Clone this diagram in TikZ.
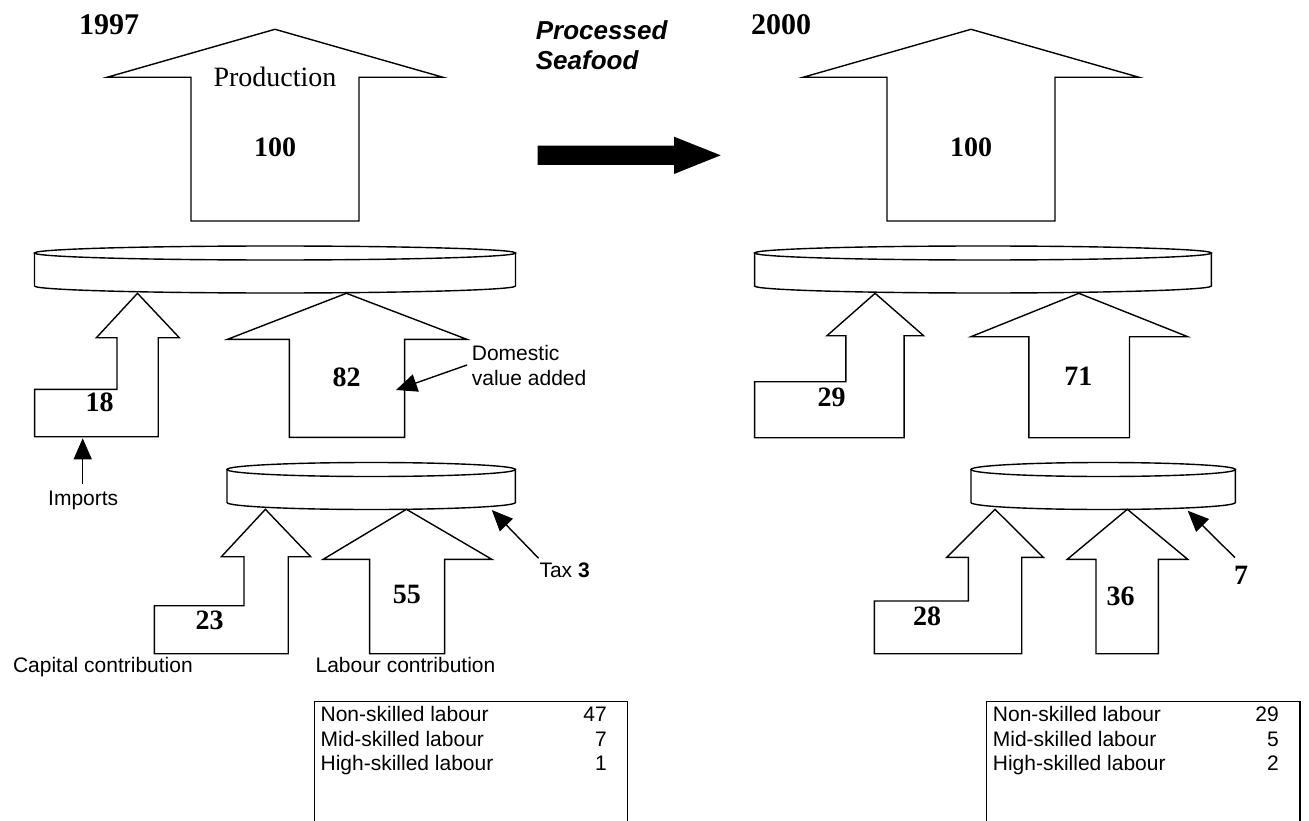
\documentclass[tikz,border=0pt]{standalone}
\usepackage{fontspec}
\setmainfont{Liberation Serif}
\newfontfamily\sansf{Liberation Sans}
\usetikzlibrary{arrows.meta}
\newcommand\drawdisk[4]{%
  \path[dsk] ({#1-#2},#3) -- ({#1-#2},#4) arc[start angle=180,end angle=360,x radius=#2pt,y radius=7pt] -- ({#1+#2},#3) -- cycle;
  \path[dsk] (#1,#3) ellipse[x radius=#2pt, y radius=7pt];
}
\begin{document}
\begin{tikzpicture}[x=1pt,y=-1pt,
  blk/.style={draw=black, line width=1.4pt, fill=white, line join=miter},
  dsk/.style={draw=black, line width=1.4pt, fill=white},
  num/.style={inner sep=0pt, anchor=base, font=\fontsize{28}{30}\selectfont\bfseries},
  yr/.style={inner sep=0pt, anchor=base west, font=\fontsize{30}{32}\selectfont\bfseries},
  lbl/.style={inner sep=0pt, anchor=base west, font=\sansf\fontsize{21}{24}\selectfont},
  tval/.style={inner sep=0pt, anchor=base east, font=\sansf\fontsize{21}{24}\selectfont},
  ptr/.style={line width=1.4pt, -{Triangle[length=21pt,width=18pt]}},
  tbl/.style={draw=black, line width=1.4pt}]
\useasboundingbox (0,0) rectangle (1309,821);
\fill[white] (0,0) rectangle (1309,821);

% ===== 1997 =====
\node[yr] (y1997) at (79,35) {1997};
% production arrow
\path[blk] (275,29.3) -- (443,77.3) -- (359,77.3) -- (359,221) -- (191,221) -- (191,77.3) -- (107,77.3) -- cycle;
\node[inner sep=0pt, anchor=base, font=\fontsize{28}{30}\selectfont] (prodL) at (275,87) {Production};
\node[num] (n100L) at (275,157) {100};
% big disk
\drawdisk{275}{240.5}{253}{286}
% imports arrow
\path[blk] (137.5,293.3) -- (179.3,337.7) -- (158.2,337.7) -- (158.2,436.7) -- (34.6,436.7) -- (34.6,389.3) -- (117,389.3) -- (117,337.7) -- (96.4,337.7) -- cycle;
\node[num] (n18) at (99.6,411.7) {18};
% domestic arrow
\path[blk] (346.4,293.3) -- (466.8,339.3) -- (404.6,339.3) -- (404.6,437.3) -- (289.3,437.3) -- (289.3,339.3) -- (227.5,339.3) -- cycle;
\node[num] (n82) at (346.5,386.7) {82};
% small disk
\drawdisk{371.2}{144.2}{469.5}{502.5}
% capital arrow
\path[blk] (265.4,509.3) -- (310.7,556.7) -- (288.2,556.7) -- (288.2,653.7) -- (154.3,653.7) -- (154.3,605.7) -- (244,605.7) -- (244,556.7) -- (221.4,556.7) -- cycle;
\node[num] (n23) at (209.5,629) {23};
% labour arrow
\path[blk] (406.4,509.3) -- (491.8,559.3) -- (444.6,559.3) -- (444.6,653.7) -- (369.6,653.7) -- (369.6,559.3) -- (323.2,559.3) -- cycle;
\node[num] (n55) at (406.8,603.3) {55};
% labels and pointers
\node[lbl] (dom1) at (471.7,360.7) {Domestic};
\node[lbl] (dom2) at (471.7,385) {value added};
\coordinate (domtail) at (467,365);
\coordinate (domtip) at (396,390);
\draw[ptr] (domtail) -- (domtip);
\node[lbl] (imp) at (48,505) {Imports};
\coordinate (imptail) at (82.7,484.3);
\coordinate (imptip) at (82.7,438.3);
\draw[ptr] (imptail) -- (imptip);
\node[lbl] (taxL) at (539.3,577.3) {Tax \textbf{3}};
\coordinate (taxLtail) at (538.6,558.3);
\coordinate (taxLtip) at (491.8,510);
\draw[ptr] (taxLtail) -- (taxLtip);
\node[inner sep=0pt, anchor=base east, font=\sansf\fontsize{21}{24}\selectfont] (capL) at (193,672.7) {Capital contribution};
\node[lbl] (labL) at (315.4,672.7) {Labour contribution};
% table left
\draw[tbl] (314.3,821) -- (314.3,701.7) -- (627.5,701.7) -- (627.5,821);
\node[lbl] (tL1) at (320.4,721.7) {Non-skilled labour};
\node[lbl] (tL2) at (320.4,746.7) {Mid-skilled labour};
\node[lbl] (tL3) at (320.4,770.7) {High-skilled labour};
\node[tval] (vL1) at (607,721.7) {47};
\node[tval] (vL2) at (607,746.7) {7};
\node[tval] (vL3) at (607,770.7) {1};

% ===== middle =====
\node[inner sep=0pt, anchor=base west, font=\sansf\bfseries\itshape\fontsize{26}{30}\selectfont] (ps1) at (535.7,40) {Processed};
\node[inner sep=0pt, anchor=base west, font=\sansf\bfseries\itshape\fontsize{26}{30}\selectfont] (ps2) at (535.7,70) {Seafood};
\fill[black] (537.5,145.7) -- (674,145.7) -- (674,136.7) -- (720.7,155.3) -- (674,174) -- (674,165) -- (537.5,165) -- cycle;

% ===== 2000 =====
\node[yr] (y2000) at (751,35) {2000};
\path[blk] (971,29.3) -- (1139,77.3) -- (1055,77.3) -- (1055,221) -- (887,221) -- (887,77.3) -- (803,77.3) -- cycle;
\node[num] (n100R) at (971,157) {100};
\drawdisk{983}{228.4}{253}{286}
\path[blk] (875.1,293.3) -- (923.6,335.7) -- (904.1,335.7) -- (904.1,437.7) -- (754.6,437.7) -- (754.6,381.7) -- (845.8,381.7) -- (845.8,335.7) -- (827,335.7) -- cycle;
\node[num] (n29) at (831.7,406.7) {29};
\path[blk] (1078.8,293.3) -- (1187.7,336.7) -- (1129.5,336.7) -- (1129.5,437.7) -- (1028.8,437.7) -- (1028.8,336.7) -- (971,336.7) -- cycle;
\node[num] (n71) at (1078.4,385.7) {71};
\drawdisk{1103.2}{132.2}{469.5}{502.5}
\path[blk] (995,509.3) -- (1043.3,557.3) -- (1021.7,557.3) -- (1021.7,653.7) -- (874.3,653.7) -- (874.3,601) -- (968.3,601) -- (968.3,557.3) -- (946.7,557.3) -- cycle;
\node[num] (n28) at (927,625.7) {28};
\path[blk] (1127.3,509.3) -- (1187.7,559.3) -- (1158.3,559.3) -- (1158.3,653.7) -- (1096,653.7) -- (1096,559.3) -- (1067.3,559.3) -- cycle;
\node[num] (n36) at (1120.5,605.7) {36};
\node[num] (n7) at (1241,584) {7};
\coordinate (taxRtail) at (1235,557.7);
\coordinate (taxRtip) at (1187.7,510.7);
\draw[ptr] (taxRtail) -- (taxRtip);
% table right
\draw[tbl] (986.7,821) -- (986.7,701.7) -- (1300,701.7) -- (1300,821);
\node[lbl] (tR1) at (992.7,721.7) {Non-skilled labour};
\node[lbl] (tR2) at (992.7,746.7) {Mid-skilled labour};
\node[lbl] (tR3) at (992.7,770.7) {High-skilled labour};
\node[tval] (vR1) at (1279,721.7) {29};
\node[tval] (vR2) at (1279,746.7) {5};
\node[tval] (vR3) at (1279,770.7) {2};
\end{tikzpicture}
\end{document}
